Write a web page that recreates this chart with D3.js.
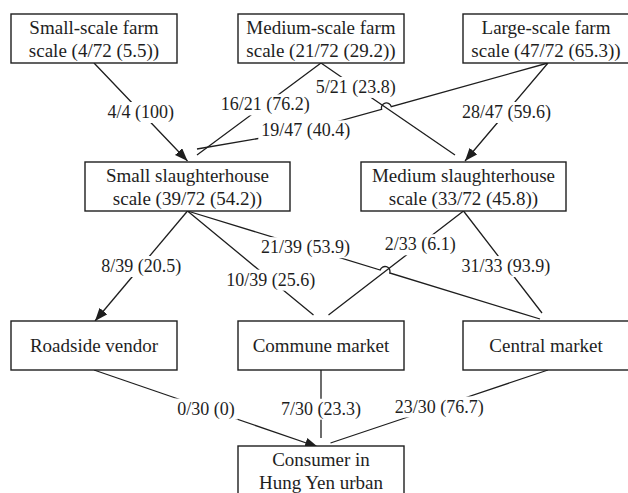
<!DOCTYPE html>
<html>
<head>
<meta charset="utf-8">
<script src="https://cdn.jsdelivr.net/npm/d3@7"></script>
<style>
  html, body { margin: 0; padding: 0; background: #fff; }
  svg { display: block; }
  text { font-family: "Liberation Serif", "Times New Roman", "DejaVu Serif", serif; fill: #1e1e1e; }
</style>
</head>
<body>
<svg id="viz" width="628" height="493"></svg>
<script>
// ---- data ----
const total = 72;
const nodeIds = ["smallFarm", "mediumFarm", "largeFarm", "smallSH", "mediumSH", "roadside", "commune", "central", "consumer"];
const nodeNames = ["Small-scale farm", "Medium-scale farm", "Large-scale farm", "Small slaughterhouse", "Medium slaughterhouse",
    "Roadside vendor", "Commune market", "Central market", "Consumer in|Hung Yen urban"];
const nodeCounts = [4, 21, 47, 39, 33, null, null, null, null];
const nodePcts = [5.5, 29.2, 65.3, 54.2, 45.8, null, null, null, null];

const edgeSources = ["smallFarm", "mediumFarm", "mediumFarm", "largeFarm", "largeFarm", "smallSH", "smallSH", "smallSH",
    "mediumSH", "mediumSH", "roadside", "commune", "central"];
const edgeTargets = ["smallSH", "smallSH", "mediumSH", "smallSH", "mediumSH", "roadside", "commune", "central",
    "commune", "central", "consumer", "consumer", "consumer"];
const edgeCounts = [4, 16, 5, 19, 28, 8, 10, 21, 2, 31, 0, 7, 23];
const edgeTotals = [4, 21, 21, 47, 47, 39, 39, 39, 33, 33, 30, 30, 30];
const edgePcts = [100, 76.2, 23.8, 40.4, 59.6, 20.5, 25.6, 53.9, 6.1, 93.9, 0, 23.3, 76.7];

// ---- layout ----
const boxH = 49;
const colX = d3.scaleOrdinal()
    .domain(["left", "midLeft", "centre", "midRight", "right"])
    .range([94, 187.5, 321, 463.5, 546]);
const rowY = d3.scaleOrdinal()
    .domain(["farm", "slaughter", "market", "consumer"])
    .range([14, 162, 321, 446]);
const rowW = d3.scaleOrdinal()
    .domain(["farm", "slaughter", "market", "consumer"])
    .range([166, 205, 166, 166]);
const nodeCell = {
    smallFarm: ["left", "farm"], mediumFarm: ["centre", "farm"], largeFarm: ["right", "farm"],
    smallSH: ["midLeft", "slaughter"], mediumSH: ["midRight", "slaughter"],
    roadside: ["left", "market"], commune: ["centre", "market"], central: ["right", "market"],
    consumer: ["centre", "consumer"]
};
// per edge: start dx, end dx/dy, label position t along edge, label nudge, arrow, line hop
const edgeShape = [
    {sdx: 0, edx: 0, edy: -1, t: 0.5, ly: 0, arrow: true},
    {sdx: 0, edx: 9.5, edy: -7, t: 0.45, ly: 0},
    {sdx: 0, edx: -8.5, edy: -7, t: 0.26, ly: 0},
    {sdx: 2, edx: 9.5, edy: -13, t: 0.69, ly: 8, hop: true},
    {sdx: 2, edx: 1.5, edy: -1, t: 0.5, ly: 0, arrow: true},
    {sdx: 0, edx: 1, edy: 0, t: 0.5, ly: 0, arrow: true},
    {sdx: 0, edx: -7.5, edy: -6, t: 0.66, ly: 0},
    {sdx: 0, edx: -6, edy: -2, t: 0.335, ly: 0, hop: true},
    {sdx: 0, edx: 7.5, edy: -6, t: 0.32, ly: 0},
    {sdx: 0, edx: -4, edy: -8, t: 0.54, ly: 0},
    {sdx: 0, edx: -3, edy: 1, t: 0.5, ly: 0, arrow: true},
    {sdx: 0, edx: 0, edy: -8, t: 0.57, ly: 0},
    {sdx: 2, edx: 9.5, edy: -3, t: 0.5, ly: 0}
];

const svg = d3.select("#viz");
const ink = "#1e1e1e";

const nodes = nodeIds.map(function (id, i) {
    const cell = nodeCell[id];
    const cx = colX(cell[0]);
    const w = rowW(cell[1]);
    let lines = nodeNames[i].split("|");
    if (nodeCounts[i] !== null) {
        lines.push("scale (" + nodeCounts[i] + "/" + total + " (" + nodePcts[i] + "))");
    }
    return {id: id, cx: cx, x: cx - w / 2, w: w, y: rowY(cell[1]), lines: lines};
});
const byId = {};
nodes.forEach(function (d) { byId[d.id] = d; });

svg.append("defs").append("marker")
    .attr("id", "arrow")
    .attr("viewBox", "0 -5 13 10")
    .attr("refX", 13)
    .attr("refY", 0)
    .attr("markerWidth", 13)
    .attr("markerHeight", 10)
    .attr("markerUnits", "userSpaceOnUse")
    .attr("orient", "auto")
    .append("path")
    .attr("d", "M0,-5L13,0L0,5Z")
    .attr("fill", ink);

const edges = edgeSources.map(function (s, i) {
    const src = byId[s], tgt = byId[edgeTargets[i]], sh = edgeShape[i];
    const a = {x: src.cx + sh.sdx, y: src.y + boxH};
    const b = {x: tgt.cx + sh.edx, y: tgt.y + sh.edy};
    const l = {x: a.x + sh.t * (b.x - a.x), y: a.y + sh.t * (b.y - a.y) + sh.ly};
    return {
        pts: [a, l, b], shape: sh,
        label: edgeCounts[i] + "/" + edgeTotals[i] + " (" + edgePcts[i] + ")"
    };
});

// crossing of two segments, ignoring touches close to their ends
function segHit(p1, p2, p3, p4) {
    const d = (p2.x - p1.x) * (p4.y - p3.y) - (p2.y - p1.y) * (p4.x - p3.x);
    if (Math.abs(d) < 1e-9) return null;
    const t = ((p3.x - p1.x) * (p4.y - p3.y) - (p3.y - p1.y) * (p4.x - p3.x)) / d;
    const u = ((p3.x - p1.x) * (p2.y - p1.y) - (p3.y - p1.y) * (p2.x - p1.x)) / d;
    const l1 = Math.hypot(p2.x - p1.x, p2.y - p1.y), l2 = Math.hypot(p4.x - p3.x, p4.y - p3.y);
    const m1 = 20 / l1, m2 = 20 / l2;
    if (t <= m1 || t >= 1 - m1 || u <= m2 || u >= 1 - m2) return null;
    return t;
}

function edgePath(e, idx) {
    const r = 5;
    const path = d3.path();
    path.moveTo(e.pts[0].x, e.pts[0].y);
    for (let k = 0; k < e.pts.length - 1; k++) {
        const p = e.pts[k], q = e.pts[k + 1];
        const len = Math.hypot(q.x - p.x, q.y - p.y);
        const ux = (q.x - p.x) / len, uy = (q.y - p.y) / len;
        const hits = [];
        if (e.shape.hop) {
            edges.forEach(function (o, j) {
                if (j === idx) return;
                for (let m = 0; m < o.pts.length - 1; m++) {
                    const t = segHit(p, q, o.pts[m], o.pts[m + 1]);
                    if (t !== null) hits.push(t);
                }
            });
        }
        hits.sort(d3.ascending);
        hits.forEach(function (t) {
            const cx = p.x + t * (q.x - p.x), cy = p.y + t * (q.y - p.y);
            path.lineTo(cx - r * ux, cy - r * uy);
            // bulge upwards whichever way the line runs
            const ang0 = Math.atan2(-uy, -ux), ang1 = Math.atan2(uy, ux);
            path.arc(cx, cy, r, ang0, ang1, !(ux > 0));
        });
        path.lineTo(q.x, q.y);
    }
    return path.toString();
}

const edgeG = svg.append("g");
edges.forEach(function (e, i) {
    edgeG.append("path")
        .attr("d", edgePath(e, i))
        .attr("fill", "none")
        .attr("stroke", ink)
        .attr("stroke-width", 1.3)
        .attr("marker-end", e.shape.arrow ? "url(#arrow)" : null);
});

// labels with a white patch so the line breaks around them
const labelG = svg.append("g");
edges.forEach(function (e) {
    const g = labelG.append("g");
    const txt = g.append("text")
        .attr("x", e.pts[1].x)
        .attr("y", e.pts[1].y + 6)
        .attr("text-anchor", "middle")
        .style("font-size", "18px")
        .text(e.label);
    const bb = txt.node().getBBox();
    g.insert("rect", "text")
        .attr("x", bb.x - 3)
        .attr("y", bb.y)
        .attr("width", bb.width + 6)
        .attr("height", bb.height)
        .attr("fill", "#fff");
});

const nodeG = svg.append("g").selectAll("g")
    .data(nodes)
    .enter().append("g");
nodeG.append("rect")
    .attr("x", function (d) { return d.x; })
    .attr("y", function (d) { return d.y; })
    .attr("width", function (d) { return d.w; })
    .attr("height", boxH)
    .attr("fill", "#fff")
    .attr("stroke", ink)
    .attr("stroke-width", 1.4);
nodeG.each(function (d) {
    const g = d3.select(this);
    const lineH = 23;
    const first = d.y + boxH / 2 + 6.5 - (d.lines.length - 1) * lineH / 2;
    d.lines.forEach(function (s, k) {
        g.append("text")
            .attr("x", d.cx)
            .attr("y", first + k * lineH)
            .attr("text-anchor", "middle")
            .style("font-size", "19px")
            .text(s);
    });
});
</script>
</body>
</html>
